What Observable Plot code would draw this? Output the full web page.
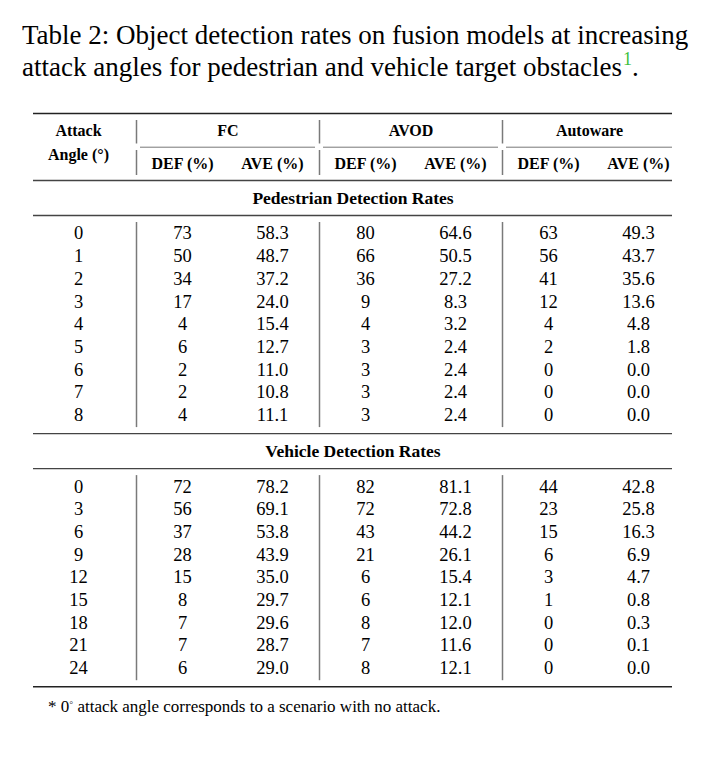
<!DOCTYPE html>
<html>
<head>
<meta charset="utf-8">
<script src="https://cdn.jsdelivr.net/npm/d3@7"></script>
<script src="https://cdn.jsdelivr.net/npm/@observablehq/plot@0.6"></script>
<style>
  body { margin: 0; background: #fff; color: #000; font-family: "Liberation Serif", "Times New Roman", serif; }
  #title { height: 100px; box-sizing: border-box; padding: 19px 0 0 22px; font-size: 27px; line-height: 32px; white-space: nowrap; }
  #title .fn { color: #3dbf3d; font-size: 18px; position: relative; top: -11px; margin-left: 1px; }
  #foot { padding-left: 48px; margin-top: 3px; font-size: 17px; line-height: 20px; white-space: nowrap; }
  #foot .deg { font-size: 11px; position: relative; top: -6px; }
  svg { display: block; }
</style>
</head>
<body>
<div id="title">Table 2: Object detection rates on fusion models at increasing<br>attack angles for pedestrian and vehicle target obstacles<span class="fn">1</span>.</div>
<div id="chart"></div>
<div id="foot">* 0<span class="deg">◦</span> attack angle corresponds to a scenario with no attack.</div>
<script>
// ---------------- data ----------------
const models = ["FC", "AVOD", "Autoware"];
const metrics = ["DEF (%)", "AVE (%)"];
const headerAngle = ["Attack", "Angle (°)"];
const sectionTitles = ["Pedestrian Detection Rates", "Vehicle Detection Rates"];

const pedAngles   = [0, 1, 2, 3, 4, 5, 6, 7, 8];
const pedFcDef    = [73, 50, 34, 17, 4, 6, 2, 2, 4];
const pedFcAve    = [58.3, 48.7, 37.2, 24.0, 15.4, 12.7, 11.0, 10.8, 11.1];
const pedAvodDef  = [80, 66, 36, 9, 4, 3, 3, 3, 3];
const pedAvodAve  = [64.6, 50.5, 27.2, 8.3, 3.2, 2.4, 2.4, 2.4, 2.4];
const pedAutoDef  = [63, 56, 41, 12, 4, 2, 0, 0, 0];
const pedAutoAve  = [49.3, 43.7, 35.6, 13.6, 4.8, 1.8, 0.0, 0.0, 0.0];

const vehAngles   = [0, 3, 6, 9, 12, 15, 18, 21, 24];
const vehFcDef    = [72, 56, 37, 28, 15, 8, 7, 7, 6];
const vehFcAve    = [78.2, 69.1, 53.8, 43.9, 35.0, 29.7, 29.6, 28.7, 29.0];
const vehAvodDef  = [82, 72, 43, 21, 6, 6, 8, 7, 8];
const vehAvodAve  = [81.1, 72.8, 44.2, 26.1, 15.4, 12.1, 12.0, 11.6, 12.1];
const vehAutoDef  = [44, 23, 15, 6, 3, 1, 0, 0, 0];
const vehAutoAve  = [42.8, 25.8, 16.3, 6.9, 4.7, 0.8, 0.3, 0.1, 0.0];

const sections = [
  {title: sectionTitles[0], angles: pedAngles, cols: [[pedFcDef, pedFcAve], [pedAvodDef, pedAvodAve], [pedAutoDef, pedAutoAve]]},
  {title: sectionTitles[1], angles: vehAngles, cols: [[vehFcDef, vehFcAve], [vehAvodDef, vehAvodAve], [vehAutoDef, vehAutoAve]]}
];

// ---------------- layout ----------------
const W = 710, H = 594;
const tableL = 33, tableR = 672;
const angleX = 78;
const groupL0 = 136, groupW = 183;
const metricOff = [46, 136];
const topRule = 13;
const head1 = 30, head2 = 63, angle1 = 30, angle2 = 54;
const cmid = 46.7, headRule = 80;
const pitch = 22.7;

const groupL = i => groupL0 + i * groupW;
const colX = (g, m) => groupL(g) + metricOff[m];

const texts = [];
const hrules = [];
const vrules = [];

hrules.push({y: topRule, x1: tableL, x2: tableR, w: 1.6, c: "#222"});
texts.push({x: angleX, y: angle1, t: headerAngle[0], s: 16, b: "bold"});
texts.push({x: angleX, y: angle2, t: headerAngle[1], s: 16, b: "bold"});
models.forEach((m, g) => {
  const x1 = groupL(g) + 4, x2 = Math.min(groupL(g) + groupW - 4, tableR);
  texts.push({x: (x1 + x2) / 2, y: head1, t: m, s: 16, b: "bold"});
  hrules.push({y: cmid, x1, x2, w: 1, c: "#777"});
  vrules.push({x: groupL(g), y1: 20, y2: 43.5});
  vrules.push({x: groupL(g), y1: 50, y2: 75});
  metrics.forEach((mt, k) => texts.push({x: colX(g, k), y: head2, t: mt, s: 16, b: "bold"}));
});
hrules.push({y: headRule, x1: tableL, x2: tableR, w: 1.3, c: "#444"});

let rule = headRule;
sections.forEach((sec, si) => {
  texts.push({x: (tableL + tableR) / 2, y: rule + 18, t: sec.title, s: 17.5, b: "bold"});
  const r2 = rule + 35;
  hrules.push({y: r2, x1: tableL, x2: tableR, w: 1.3, c: "#444"});
  const y0 = r2 + 18;
  sec.angles.forEach((a, i) => {
    const y = y0 + i * pitch;
    texts.push({x: angleX, y, t: String(a), s: 18.5, b: "normal"});
    sec.cols.forEach((pair, g) => {
      texts.push({x: colX(g, 0), y, t: String(pair[0][i]), s: 18.5, b: "normal"});
      texts.push({x: colX(g, 1), y, t: pair[1][i].toFixed(1), s: 18.5, b: "normal"});
    });
  });
  const last = y0 + (sec.angles.length - 1) * pitch;
  const next = last + 18.5;
  models.forEach((m, g) => vrules.push({x: groupL(g), y1: r2 + 7, y2: next - 6}));
  const isLast = si === sections.length - 1;
  hrules.push({y: next, x1: tableL, x2: tableR, w: isLast ? 1.6 : 1.3, c: isLast ? "#222" : "#444"});
  rule = next;
});

const chart = Plot.plot({
  width: W,
  height: H,
  margin: 0,
  x: {domain: [0, W], range: [0, W], axis: null},
  y: {domain: [0, H], range: [0, H], axis: null},
  style: {fontFamily: '"Liberation Serif", "Times New Roman", serif', background: "#fff"},
  marks: [
    Plot.ruleY(hrules, {y: "y", x1: "x1", x2: "x2", strokeWidth: "w", stroke: d => d.c}),
    Plot.ruleX(vrules, {x: "x", y1: "y1", y2: "y2", stroke: "#7a7a7a", strokeWidth: 1.5}),
    Plot.text(texts.filter(d => d.b === "bold" && d.s < 17), {x: "x", y: "y", text: "t", fontSize: 16, fontWeight: "bold", fill: "#000"}),
    Plot.text(texts.filter(d => d.b === "bold" && d.s >= 17), {x: "x", y: "y", text: "t", fontSize: 17.5, fontWeight: "bold", fill: "#000"}),
    Plot.text(texts.filter(d => d.b !== "bold"), {x: "x", y: "y", text: "t", fontSize: 18.5, fill: "#000"})
  ]
});
document.getElementById("chart").appendChild(chart);
</script>
</body>
</html>
